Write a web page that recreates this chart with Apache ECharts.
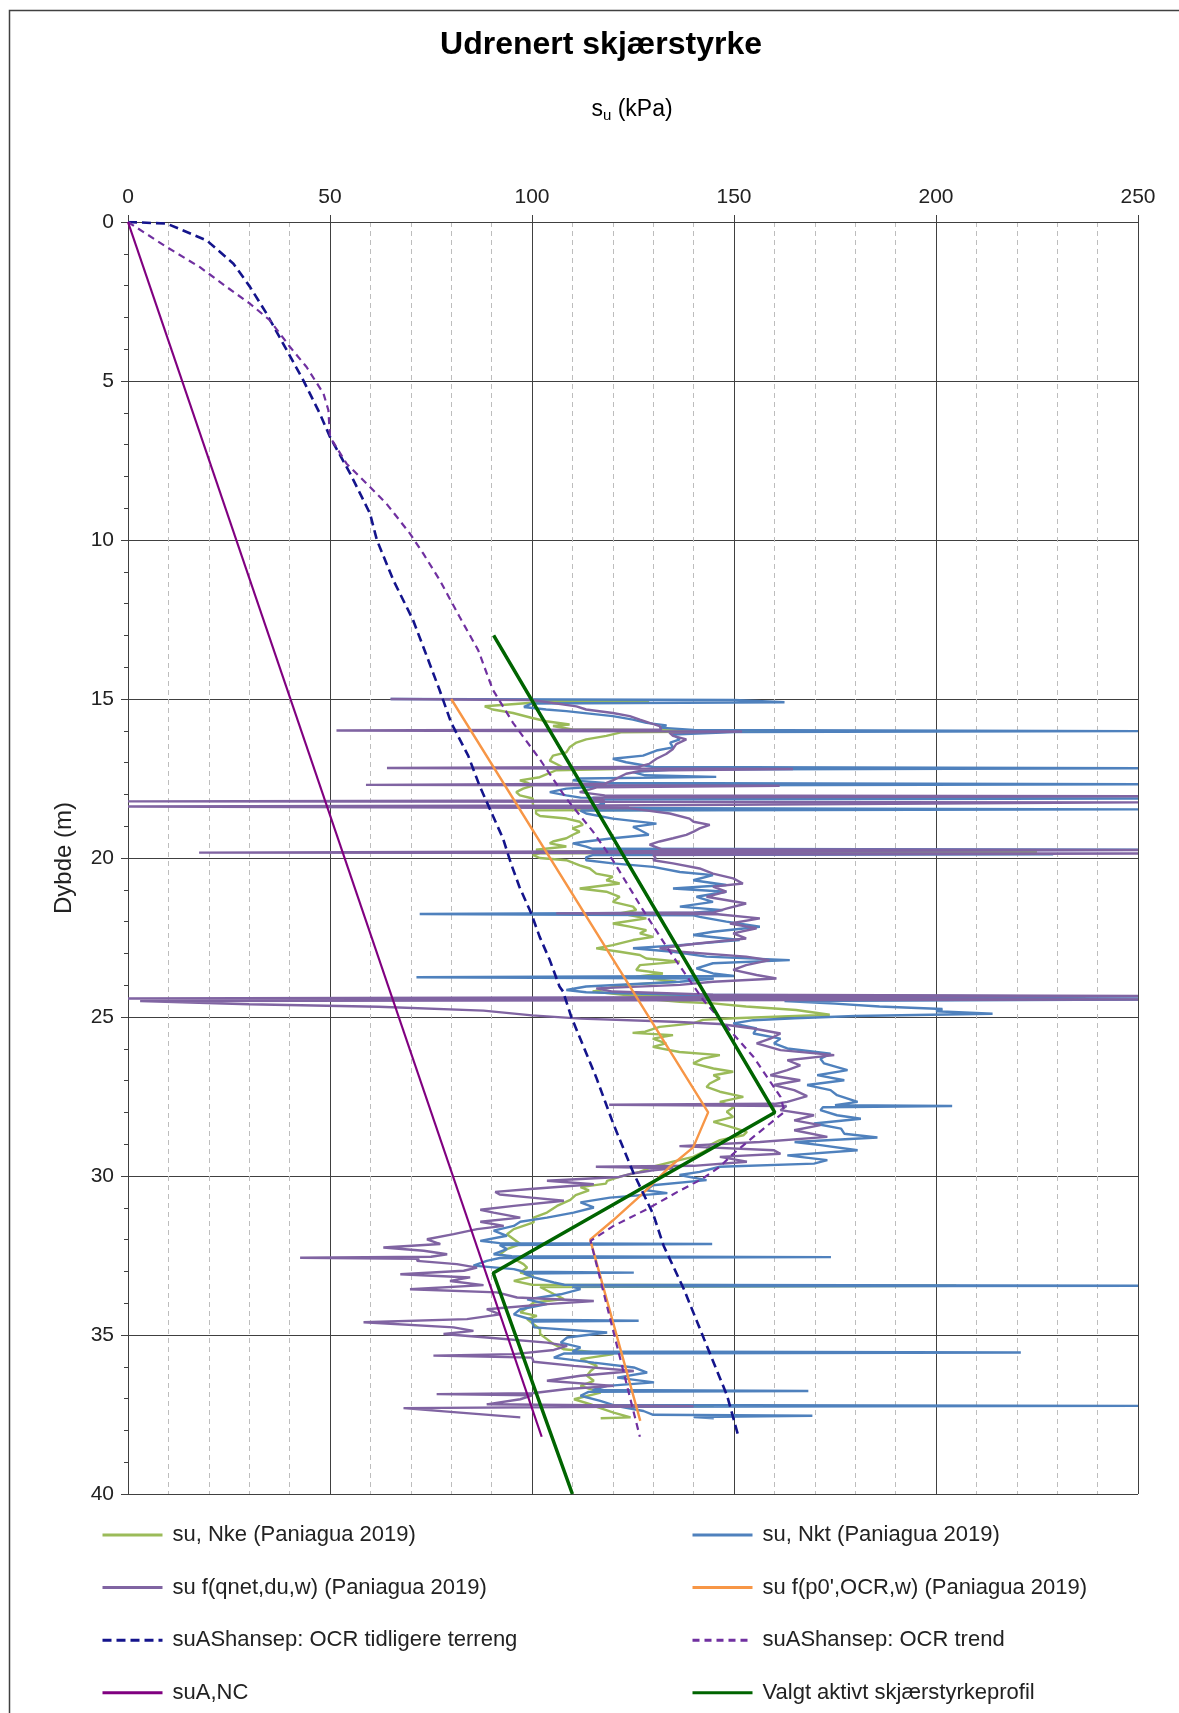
<!DOCTYPE html>
<html>
<head>
<meta charset="utf-8">
<title>Udrenert skjærstyrke</title>
<script src="https://cdn.jsdelivr.net/npm/echarts@6/dist/echarts.min.js"></script>
<style>
  html, body { margin: 0; padding: 0; background: #fff; }
  #chart { width: 1179px; height: 1713px; }
</style>
</head>
<body>
<div id="chart"></div>
<script>
// Akse og tekster
const xTicks = [0, 50, 100, 150, 200, 250];
const yTicks = [0, 5, 10, 15, 20, 25, 30, 35, 40];

// Alle kurver som [dybde (m), su (kPa)]
// su, Nke (Paniagua 2019)
const nke = [[15.05,100],[15.07,129],[15.12,100],[15.23,88.3],[15.33,90.3],[15.44,95.3],[15.59,99.8],[15.7,103.5],[15.8,109.3],[15.85,105.2],[15.96,110],[16.01,158.8],[16.05,122],[16.16,118.4],[16.27,113.4],[16.37,111],[16.52,109.3],[16.68,108.5],[16.78,105.2],[16.94,104.4],[17.09,106.8],[17.17,108],[17.2,120.9],[17.24,106],[17.3,106],[17.46,101.9],[17.56,97],[17.64,99],[17.72,100.2],[17.82,97.8],[17.93,96.1],[18.03,97],[18.13,100.2],[18.29,100.2],[18.44,100.5],[18.47,195],[18.5,101],[18.6,101],[18.68,102],[18.76,108.5],[18.86,111.8],[18.96,112.6],[19.07,110],[19.17,111.8],[19.27,110.1],[19.38,108.5],[19.48,105.2],[19.54,104.4],[19.64,108.5],[19.74,101],[19.79,102],[19.82,225],[19.85,102],[19.9,100.2],[20.0,101.9],[20.07,108.5],[20.23,111.8],[20.33,114.3],[20.49,115.9],[20.59,120],[20.7,118.4],[20.8,121.7],[20.96,111.8],[21.06,118.4],[21.22,121.7],[21.38,120],[21.53,125],[21.64,125.8],[21.74,121.7],[21.9,128.3],[22.06,120],[22.16,124.2],[22.27,128.3],[22.37,126.7],[22.48,130],[22.58,125],[22.74,120],[22.84,115.9],[22.95,121.7],[23.05,126.7],[23.16,128.3],[23.26,136.6],[23.37,126.7],[23.52,125.8],[23.63,132.4],[23.73,125.8],[23.89,135.7],[23.99,123.3],[24.1,118.4],[24.2,115],[24.33,125],[24.36,237],[24.4,128],[24.45,130],[24.52,136.6],[24.57,144.8],[24.67,153],[24.78,165.4],[24.93,173.7],[25.04,150],[25.09,142.3],[25.2,139.9],[25.31,131.6],[25.46,128],[25.5,124.9],[25.57,134.9],[25.68,129.9],[25.83,133.2],[25.94,129.9],[26.1,136.5],[26.2,146.5],[26.31,142.3],[26.46,139.9],[26.62,144.9],[26.72,149.8],[26.83,144.9],[26.93,146.5],[27.09,144],[27.2,143.2],[27.35,146.5],[27.51,152.3],[27.67,146.5],[27.83,150],[27.98,148.2],[28.14,149.8],[28.3,144.9],[28.45,149],[28.61,153.2],[28.72,152.3],[28.87,146.5],[29.03,144],[29.19,143.2],[29.4,139.9],[29.55,134.9],[29.71,129.9],[29.87,126.6],[30.03,121.6],[30.15,118.6],[30.24,118.3],[30.35,112],[30.45,114.1],[30.6,110.8],[30.75,109.5],[30.94,106.2],[31.15,103.7],[31.31,100.4],[31.46,100.4],[31.67,95.5],[31.83,93.8],[31.99,95.5],[32.14,97.1],[32.3,93.8],[32.46,92.1],[32.6,95.5],[32.77,97.9],[32.88,98.8],[33.04,97.1],[33.15,100.4],[33.3,95.5],[33.42,100],[33.45,205],[33.49,102],[33.6,103.7],[33.71,105.4],[33.87,107.9],[33.98,100.4],[34.14,98.8],[34.29,97.1],[34.4,101.2],[34.5,98.8],[34.66,100.4],[34.82,102],[34.97,102],[35.13,103.7],[35.29,105.4],[35.45,107.9],[35.6,120.2],[35.76,112],[35.97,116.1],[36.13,114.5],[36.28,113.6],[36.44,115.3],[36.6,112],[36.81,117],[37.02,110.4],[37.2,115],[37.23,145],[37.26,116],[37.44,120.2],[37.59,124.4],[37.62,117]];

// su, Nkt (Paniagua 2019)
const nkt = [[15.0,65],[15.03,150],[15.1,162.5],[15.14,100],[15.25,98],[15.33,103.5],[15.38,108.5],[15.54,120],[15.65,125],[15.75,128.3],[15.83,133.3],[15.9,131.6],[15.97,140],[16.01,250],[16.04,150],[16.12,134.9],[16.27,136.6],[16.37,134.2],[16.52,134.9],[16.62,130.8],[16.78,127.5],[16.88,120],[16.99,123.3],[17.14,130],[17.18,250],[17.22,135],[17.3,125],[17.4,128],[17.45,145.6],[17.5,112],[17.56,110.1],[17.64,118],[17.68,250],[17.72,120],[17.82,108.5],[17.93,104.4],[18.03,108.5],[18.1,112],[18.13,250],[18.16,115],[18.3,118],[18.43,112],[18.47,250],[18.51,112],[18.6,113.4],[18.76,120],[18.92,130.8],[19.02,125],[19.12,126.7],[19.27,128.9],[19.38,120],[19.48,113.4],[19.54,110.1],[19.64,113.4],[19.71,115],[19.74,250],[19.77,115],[19.85,118],[19.88,229],[19.91,115],[19.98,113.4],[20.07,113.4],[20.17,120],[20.28,130],[20.44,136.6],[20.54,144.8],[20.7,139.9],[20.85,148.1],[20.96,134.9],[21.06,148.1],[21.22,140.7],[21.38,144.8],[21.53,136.6],[21.64,147.3],[21.72,140],[21.76,72.2],[21.8,140],[21.85,141.5],[22.0,148.1],[22.16,156.4],[22.32,144.8],[22.42,139.9],[22.58,151.4],[22.74,136.6],[22.84,125],[22.95,134.9],[23.1,143.2],[23.21,163.8],[23.31,144.8],[23.47,140.7],[23.63,144.8],[23.71,150],[23.75,71.4],[23.79,145],[23.89,136.6],[24.04,113.4],[24.15,108.5],[24.22,113.4],[24.3,136.6],[24.36,250],[24.4,140],[24.45,250],[24.5,162.5],[24.58,175],[24.67,186],[24.75,201.6],[24.82,200],[24.9,214],[24.97,180],[25.04,165],[25.1,154.8],[25.2,149.8],[25.36,155.6],[25.52,154.8],[25.68,161.5],[25.83,159.9],[25.99,163.2],[26.15,173.9],[26.31,171.4],[26.46,172.3],[26.67,178.1],[26.83,170.6],[26.99,177.3],[27.14,168.1],[27.3,173.9],[27.46,175.5],[27.67,180.6],[27.77,175],[27.8,204],[27.84,172],[27.93,171.4],[28.09,175.5],[28.2,181.4],[28.35,169.8],[28.51,176.5],[28.67,177.3],[28.79,185.5],[28.93,165],[29.03,171.4],[29.19,180.6],[29.35,163.2],[29.5,173.1],[29.61,169.8],[29.71,146.5],[29.87,141.5],[29.97,136.5],[30.13,143.2],[30.29,129.9],[30.45,128.2],[30.54,133.5],[30.68,119.3],[30.83,112],[30.99,115.3],[31.15,110.3],[31.31,103.7],[31.44,97.1],[31.57,95.5],[31.72,90.5],[31.88,93.8],[32.04,87.2],[32.11,92],[32.14,144.6],[32.17,92],[32.3,93.8],[32.46,90.5],[32.52,95],[32.55,174],[32.58,92],[32.67,88.8],[32.82,85.5],[32.93,95.5],[33.01,98],[33.04,125.2],[33.07,98],[33.19,100.5],[33.35,105.4],[33.42,108],[33.45,250],[33.48,110],[33.56,112],[33.72,107.1],[33.88,98.8],[34.03,103.7],[34.19,97.1],[34.35,95.5],[34.52,100],[34.55,126.4],[34.58,100],[34.76,100.5],[34.92,118.6],[35.08,108.7],[35.24,107.1],[35.39,112],[35.52,110],[35.55,221],[35.58,108],[35.71,105.4],[35.87,115.3],[36.02,125.2],[36.18,128.5],[36.34,121.1],[36.49,130.2],[36.6,118.6],[36.73,115],[36.76,168.4],[36.79,114],[36.91,112],[37.07,116.9],[37.2,120],[37.23,250],[37.26,122],[37.39,127.6],[37.51,130],[37.54,169.4],[37.58,140],[37.62,145]];

// su f(qnet,du,w) (Paniagua 2019)
const qnet = [[15.0,65],[15.03,100],[15.23,111],[15.33,113.4],[15.44,120],[15.54,124.2],[15.65,126.7],[15.75,129.1],[15.85,131.6],[15.96,132],[15.99,51.6],[16.02,152],[16.06,134],[16.16,134.9],[16.27,138.2],[16.42,135.7],[16.57,134.9],[16.73,133.2],[16.88,130.8],[17.04,129],[17.14,126],[17.17,64.1],[17.2,164.6],[17.25,127.5],[17.35,123.3],[17.56,120],[17.66,118],[17.7,58.9],[17.73,161.3],[17.78,116],[17.82,115],[17.93,111.8],[18.03,118],[18.06,250],[18.1,115],[18.19,118],[18.22,0],[18.25,250],[18.3,250],[18.35,118],[18.38,0],[18.43,124],[18.6,134.1],[18.76,139],[18.86,140],[18.96,144],[19.07,141.5],[19.17,140],[19.27,138.2],[19.38,134.9],[19.48,131.6],[19.58,129.1],[19.72,132],[19.75,250],[19.79,130],[19.83,17.6],[19.86,250],[19.9,130],[20.0,130.6],[20.07,130],[20.17,134.9],[20.33,141.5],[20.49,144.8],[20.64,149.8],[20.8,152.2],[20.9,144.8],[21.06,148.1],[21.22,143.2],[21.43,153],[21.59,148.1],[21.71,145],[21.74,106],[21.77,146],[21.9,156.4],[22.06,149],[22.21,155.6],[22.37,149.8],[22.53,153],[22.69,141],[22.84,131.6],[22.95,136.6],[23.1,153],[23.21,158.8],[23.37,153],[23.52,149.8],[23.68,155.6],[23.79,160.5],[23.89,144.8],[23.99,136.6],[24.1,115.9],[24.2,120],[24.3,144.8],[24.34,250],[24.38,140],[24.42,0],[24.45,250],[24.5,3],[24.6,30],[24.68,62],[24.8,88],[24.95,100],[25.05,112],[25.15,135],[25.22,146.5],[25.36,154.8],[25.52,161.5],[25.68,159],[25.83,155.6],[26.04,161.5],[26.2,174.8],[26.36,163.2],[26.52,166.4],[26.67,163.2],[26.83,159],[26.99,166.4],[27.14,159.9],[27.3,164.9],[27.49,168.1],[27.67,163.2],[27.73,160],[27.76,119.1],[27.8,163],[27.93,161.5],[28.09,169.8],[28.25,164.9],[28.4,171.4],[28.56,164.9],[28.77,173.1],[28.93,156.4],[29.06,136.5],[29.19,159.9],[29.3,161.5],[29.4,146.5],[29.55,153.2],[29.68,140],[29.71,115.8],[29.76,135],[29.82,129.9],[29.92,124.9],[30.03,121.6],[30.15,103.7],[30.26,115.3],[30.41,99.6],[30.5,90.9],[30.58,92],[30.68,99.9],[30.78,107.9],[30.94,95.5],[31.06,87.2],[31.15,90.5],[31.31,97.1],[31.44,87.2],[31.57,93],[31.67,86.4],[31.83,80.6],[31.99,74],[32.14,77.3],[32.25,63.2],[32.35,73.2],[32.46,79],[32.54,75],[32.57,42.6],[32.6,72],[32.67,71.5],[32.77,81.4],[32.88,86.4],[32.98,83.1],[33.09,67.4],[33.19,84.7],[33.3,79.7],[33.43,88],[33.56,69.8],[33.66,91.3],[33.82,96.3],[33.93,115.3],[34.03,103.7],[34.19,88.8],[34.35,92.1],[34.5,83.9],[34.6,58.3],[34.76,80.6],[34.87,85.5],[34.97,78.1],[35.08,88.8],[35.24,103.7],[35.34,108.7],[35.47,105.4],[35.6,95.5],[35.65,75.6],[35.71,100],[35.84,100.4],[35.97,110.4],[36.13,125.2],[36.28,112],[36.44,103.7],[36.6,120.2],[36.7,108.7],[36.83,100],[36.86,76.4],[36.9,100],[37.02,97.1],[37.18,88.8],[37.24,140],[37.3,68.2],[37.44,82.2],[37.59,97.1]];

// su f(p0',OCR,w) (Paniagua 2019)
const p0ocr = [[15.0,80],[28.0,143.6],[29.1,139.9],[29.7,134.2],[30.6,127],[31.4,120],[32.0,114.4],[37.7,126.8]];

// suAShansep: OCR tidligere terreng
const shansepTerreng = [[0,0],[0.05,9.6],[0.58,19.5],[1.31,26.1],[2.04,30.2],[2.88,34.3],[4.03,39.3],[4.98,43.4],[6.03,47.5],[6.76,50],[7.91,55],[9.17,59.9],[10.0,61.6],[11.27,65.7],[12.5,70.5],[13.5,73.5],[14.71,77.1],[15.75,80],[16.78,84.2],[17.72,87],[18.44,89.5],[19.38,92.8],[20.21,94.9],[20.91,96.9],[21.74,99.8],[22.48,101.9],[23.21,104.4],[24.04,106.8],[24.2,107.7],[24.99,109.7],[26.9,115.9],[28.35,120.1],[29.9,125.1],[31.2,130],[32.2,132.6],[33.56,137.6],[35.13,142.6],[36.91,148.3],[38.1,150.9]];

// suAShansep: OCR trend
const shansepTrend = [[0,0],[0.79,9.6],[1.42,17.8],[2.04,24.4],[2.57,30.2],[3.09,35.1],[3.93,40.1],[4.56,44.2],[5.4,48.4],[5.92,49.6],[6.76,50],[7.6,54.1],[8.23,59.1],[8.86,64],[9.8,69.8],[10.43,73.1],[11.27,77.2],[12.4,82],[13.47,86.7],[14.71,90.3],[15.75,95.3],[16.89,101.9],[18.13,108.5],[19.17,115.1],[20.07,120],[21.64,127.5],[22.79,133.3],[23.4,136.6],[24.47,142.4],[25.3,148.2],[26.25,154.8],[27.51,161.5],[27.98,162.5],[28.77,154.8],[29.3,149.8],[29.71,146.5],[30.1,142],[30.5,136],[31.04,128.5],[31.57,120.2],[32.04,114.5],[38.2,126.7]];

// suA,NC
const suANC = [[0,0],[38.2,102.4]];

// Valgt aktivt skjærstyrkeprofil
const valgt = [[13.0,90.5],[28.0,160.1],[33.05,90.4],[40.0,110]];

const FONT = '"Liberation Sans", Arial, sans-serif';

// snu [dybde, su] til [su, dybde] for x/y-aksene
const toXY = arr => arr.map(p => [p[1], p[0]]);

const chart = echarts.init(document.getElementById('chart'), null, { renderer: 'canvas' });

function lineSeries(name, data, color, width, type, z) {
  return {
    name: name,
    type: 'line',
    data: toXY(data),
    symbol: 'none',
    smooth: false,
    z: z,
    lineStyle: { color: color, width: width, type: type },
    itemStyle: { color: color },
    emphasis: { disabled: true },
    animation: false
  };
}

// felles oppsett for de to legendekolonnene
function legendColumn(left, names) {
  return {
    orient: 'vertical', left: left, top: 1523,
    padding: 0,
    itemWidth: 60, itemHeight: 24, itemGap: 28.6,
    itemStyle: { opacity: 0 },
    lineStyle: { width: 3 },
    textStyle: { fontSize: 22, fontFamily: FONT, color: '#222', lineHeight: 24, padding: [0, 0, 0, 5] },
    data: names
  };
}

const option = {
  backgroundColor: '#fff',
  animation: false,
  graphic: [
    // ramme rundt diagrammet
    { type: 'rect', shape: { x: 9.5, y: 10.5, width: 1300, height: 1800 },
      style: { fill: 'none', stroke: '#404040', lineWidth: 1.5 }, silent: true },
    { type: 'text', x: 601, y: 45,
      style: { text: 'Udrenert skjærstyrke', font: 'bold 32px ' + FONT, fill: '#000',
               textAlign: 'center', textVerticalAlign: 'middle' } },
    { type: 'text', x: 632, y: 110,
      style: {
        text: '{a|s}{b|u}{a| (kPa)}',
        textAlign: 'center', textVerticalAlign: 'middle',
        rich: {
          a: { fontSize: 23, fontFamily: FONT, fill: '#000', lineHeight: 27 },
          b: { fontSize: 15, fontFamily: FONT, fill: '#000', lineHeight: 8, verticalAlign: 'bottom' }
        }
      } }
  ],
  grid: { left: 128, top: 222, right: 41, bottom: 219, containLabel: false },
  xAxis: {
    type: 'value',
    position: 'top',
    min: 0, max: 250, interval: 50,
    axisLine: { show: true, lineStyle: { color: '#404040', width: 1 } },
    axisTick: { show: true, length: 7, inside: false, lineStyle: { color: '#404040' } },
    axisLabel: { fontSize: 21, fontFamily: FONT, color: '#222', margin: 14 },
    splitLine: { show: true, lineStyle: { color: '#404040', width: 1 } },
    minorTick: { show: false, splitNumber: 5 },
    minorSplitLine: { show: true, lineStyle: { color: '#bdbdbd', width: 1, type: [5, 4] } }
  },
  yAxis: {
    type: 'value',
    inverse: true,
    min: 0, max: 40, interval: 5,
    name: 'Dybde (m)',
    nameLocation: 'middle',
    nameGap: 52,
    nameRotate: 90,
    nameTextStyle: { fontSize: 24, fontFamily: FONT, color: '#222' },
    axisLine: { show: true, lineStyle: { color: '#404040', width: 1 } },
    axisTick: { show: true, length: 7, inside: false, lineStyle: { color: '#404040' } },
    minorTick: { show: true, splitNumber: 5, length: 4, lineStyle: { color: '#404040' } },
    axisLabel: { fontSize: 21, fontFamily: FONT, color: '#222', margin: 14 },
    splitLine: { show: true, lineStyle: { color: '#404040', width: 1 } }
  },
  legend: [
    legendColumn(101, ['su, Nke (Paniagua 2019)', 'su f(qnet,du,w) (Paniagua 2019)',
                       'suAShansep: OCR tidligere terreng', 'suA,NC']),
    legendColumn(691, ['su, Nkt (Paniagua 2019)', "su f(p0',OCR,w) (Paniagua 2019)",
                       'suAShansep: OCR trend', 'Valgt aktivt skjærstyrkeprofil'])
  ],
  series: [
    lineSeries('su, Nke (Paniagua 2019)', nke, '#9BBB59', 2.4, 'solid', 2),
    lineSeries('su, Nkt (Paniagua 2019)', nkt, '#4F81BD', 2.4, 'solid', 3),
    lineSeries('su f(qnet,du,w) (Paniagua 2019)', qnet, '#8064A2', 2.4, 'solid', 4),
    lineSeries("su f(p0',OCR,w) (Paniagua 2019)", p0ocr, '#F79646', 2.4, 'solid', 5),
    lineSeries('suAShansep: OCR tidligere terreng', shansepTerreng, '#14148C', 2.6, [9, 5], 6),
    lineSeries('suAShansep: OCR trend', shansepTrend, '#7030A0', 2.2, [7, 5], 6),
    lineSeries('suA,NC', suANC, '#800080', 2.2, 'solid', 7),
    lineSeries('Valgt aktivt skjærstyrkeprofil', valgt, '#006400', 3.5, 'solid', 8)
  ]
};

chart.setOption(option);

window.addEventListener('resize', () => {
  if (chart) {
    chart.resize();
  }
});
</script>
</body>
</html>
